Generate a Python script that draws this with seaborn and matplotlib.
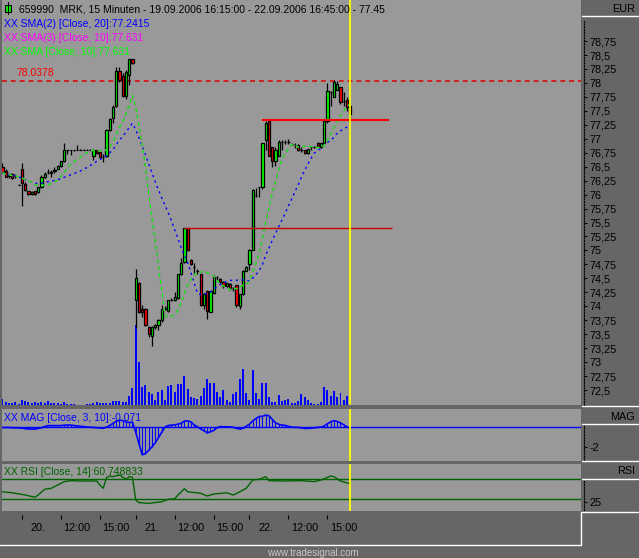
import numpy as np
import pandas as pd
import matplotlib
matplotlib.use("Agg")
import matplotlib.pyplot as plt
from matplotlib.lines import Line2D
from matplotlib.patches import Rectangle
from matplotlib.transforms import blended_transform_factory
import seaborn as sns

# 15 minute bars, 19.09.2006 16:15 -> 22.09.2006 16:45
opens = [
    76.50, 76.43, 76.34, 76.36, 76.33, 76.18,
    76.46, 76.19, 76.06, 76.01, 76.06, 76.05, 76.13, 76.31, 76.41, 76.39, 76.43, 76.46,
    76.51, 76.61, 76.79, 76.79, 76.79, 76.80, 76.80, 76.80, 76.80, 76.80, 76.69, 76.79,
    76.77, 76.67, 76.69, 77.16, 77.38, 77.59, 78.22, 78.12, 77.77, 78.15, 78.42,
    74.11, 74.42, 73.96, 73.95, 73.62, 73.46, 73.62, 73.66, 73.75, 73.95, 73.92, 74.11,
    74.11, 74.14, 74.57, 74.80, 75.40, 74.83, 74.71, 74.64, 74.58, 74.02, 74.27, 73.90,
    74.24, 74.52, 74.49, 74.44, 74.36, 74.39, 74.32, 74.38, 74.00, 74.22, 74.64,
    74.76, 75.01, 76.00, 76.14, 76.14, 76.98, 77.32, 76.85, 76.61, 76.70, 76.94, 76.94,
    76.95, 76.90, 76.89, 76.89, 76.79, 76.79, 76.74, 76.85, 76.85, 76.93, 76.85, 76.92,
    77.32, 77.84, 77.75, 77.88, 77.92, 77.67, 77.69, 77.59,
]
highs = [
    76.57, 76.45, 76.39, 76.38, 76.37, 76.19,
    76.56, 76.23, 76.07, 76.06, 76.07, 76.14, 76.35, 76.41, 76.46, 76.44, 76.49, 76.53,
    76.61, 76.93, 76.80, 76.80, 76.80, 76.89, 76.81, 76.81, 76.81, 76.81, 76.82, 76.80,
    76.78, 76.72, 77.17, 77.38, 77.60, 78.29, 78.28, 78.17, 78.23, 78.43, 78.43,
    74.66, 74.44, 74.02, 73.97, 73.64, 73.64, 73.68, 73.78, 74.02, 74.00, 74.12, 74.14,
    74.26, 74.58, 74.86, 75.41, 75.41, 74.85, 74.77, 74.66, 74.58, 74.23, 74.29, 74.28,
    74.56, 74.54, 74.50, 74.45, 74.42, 74.42, 74.35, 74.38, 74.22, 74.65, 74.72,
    75.02, 76.10, 76.11, 76.14, 76.92, 77.32, 77.33, 76.85, 76.85, 76.98, 76.98, 76.98,
    76.99, 76.92, 76.92, 76.90, 76.85, 76.80, 76.82, 76.87, 76.87, 76.94, 76.93, 77.34,
    78.00, 77.85, 78.06, 78.04, 77.93, 77.84, 77.75, 77.60,
]
lows = [
    76.39, 76.31, 76.30, 76.28, 76.29, 76.17,
    75.80, 76.06, 76.00, 76.00, 76.00, 76.02, 76.11, 76.29, 76.37, 76.32, 76.38, 76.45,
    76.50, 76.59, 76.73, 76.71, 76.78, 76.79, 76.79, 76.79, 76.79, 76.79, 76.62, 76.73,
    76.66, 76.59, 76.68, 77.14, 77.29, 77.57, 78.02, 77.75, 77.72, 77.97, 78.34,
    73.61, 73.88, 73.81, 73.64, 73.45, 73.28, 73.60, 73.58, 73.72, 73.93, 73.90, 74.09,
    74.10, 74.13, 74.56, 74.77, 74.99, 74.74, 74.59, 74.58, 74.00, 73.95, 73.77, 73.90,
    74.22, 74.47, 74.42, 74.33, 74.34, 74.29, 74.27, 73.98, 73.96, 74.21, 74.63,
    74.65, 75.00, 75.96, 75.96, 76.10, 76.79, 76.70, 76.50, 76.51, 76.69, 76.80, 76.91,
    76.91, 76.88, 76.83, 76.78, 76.77, 76.73, 76.73, 76.80, 76.83, 76.85, 76.84, 76.90,
    77.28, 77.59, 77.74, 77.87, 77.62, 77.59, 77.50, 77.33,
]
closes = [
    76.40, 76.32, 76.35, 76.29, 76.34, 76.18,
    76.21, 76.08, 76.01, 76.05, 76.01, 76.13, 76.31, 76.37, 76.41, 76.40, 76.44, 76.52,
    76.60, 76.79, 76.79, 76.79, 76.79, 76.80, 76.80, 76.80, 76.80, 76.80, 76.80, 76.74,
    76.67, 76.68, 77.16, 77.35, 77.57, 78.22, 78.05, 77.77, 78.19, 78.42, 78.35,
    74.50, 73.90, 73.90, 73.66, 73.50, 73.62, 73.665, 73.75, 73.95, 73.97, 74.11, 74.11,
    74.16, 74.57, 74.77, 75.40, 75.00, 74.75, 74.70, 74.64, 74.02, 74.22, 73.92, 74.27,
    74.53, 74.52, 74.435, 74.36, 74.41, 74.32, 74.32, 74.02, 74.22, 74.64, 74.71,
    75.01, 76.09, 76.00, 76.14, 76.92, 77.29, 76.70, 76.61, 76.80, 76.94, 76.94, 76.94,
    76.95, 76.90, 76.89, 76.79, 76.79, 76.74, 76.81, 76.85, 76.85, 76.86, 76.92, 77.32,
    77.85, 77.84, 78.02, 77.98, 77.66, 77.67, 77.57, 77.44,
]
volume = [
    6, 3, 2, 2, 3, 1,
    5, 4, 3, 2, 3, 2, 3, 2, 4, 2, 2, 2, 1, 3, 1, 1, 1, 0.5, 0.5, 0.5, 1, 1, 2, 3, 2,
    1.7, 2.3, 2.3, 4, 4, 4, 3, 3, 9, 17,
    80, 43, 18.3, 20, 12.7, 11, 5, 13.3, 15, 5, 19, 20, 13.3, 21, 21, 29.3, 16, 8.3,
    7.3, 6, 9.3, 17, 25.7, 22.3, 21.7, 13.3, 8.3, 15, 5, 3.3, 11, 13.3, 26, 36, 12.3,
    5, 35, 12.3, 6, 21.7, 21.7, 7.7, 3.3, 3.3, 10, 4.3, 5, 6, 2.3, 2.3, 4, 11, 8.3, 5,
    1.7, 1, 1, 3.3, 18.3, 15, 9.3, 14, 8.3, 11.7, 5, 9, 2.3,
]
rsi_bar = [0, 3, 7, 10, 11, 13, 15, 17, 19, 21, 24, 29, 30, 31, 32, 33, 34, 36, 38, 39,
           40, 41, 42, 45, 49, 51, 53, 54, 56, 57, 61, 63, 65, 69, 71, 73, 75, 77, 79,
           81, 82, 86, 92, 96, 98, 101, 102, 104, 107]
rsi_val = [45, 43, 38.6, 34, 38.6, 50, 52, 58.6, 65.3, 67.3, 66.6, 66.6, 58.6, 52, 73.2,
           76.6, 75.3, 78.6, 70, 75.3, 74, 28.6, 23.3, 22, 25, 30, 31, 38.6, 51.3, 45, 42,
           36.5, 40.6, 43, 38.6, 45, 52, 68.6, 70, 75.3, 67.3, 66.6, 67.3, 65.3, 68.6,
           76.6, 75.3, 66.6, 61]

time_ticks = [6, 18, 30, 41, 53, 65, 76, 88, 100]
time_labels = ["20.", "12:00", "15:00", "21.", "12:00", "15:00", "22.", "12:00", "15:00"]
price_ticks = [72.5, 72.75, 73, 73.25, 73.5, 73.75, 74, 74.25, 74.5, 74.75, 75, 75.25,
               75.5, 75.75, 76, 76.25, 76.5, 76.75, 77, 77.25, 77.5, 77.75, 78, 78.25,
               78.5, 78.75]
ref_level = 78.0378
red_levels = [77.33, 75.41]
red_start = [80, 56]
red_end = [119, 120]

W, H = 639, 558
BG = "#999999"
DARK = "#666666"
TXT = 7.5
SCALE_TXT = 7.8

sns.set_style("white")
plt.rcParams["font.family"] = ["Liberation Sans", "DejaVu Sans"]
plt.rcParams["font.size"] = TXT

fig = plt.figure(figsize=(W / 100, H / 100), dpi=100, facecolor=DARK)


def px_rect(x0, y0, x1, y1):
    return [x0 / W, 1 - y1 / H, (x1 - x0) / W, (y1 - y0) / H]


def fig_text(x, y, s, **kw):
    kw.setdefault("va", "center")
    kw.setdefault("fontsize", TXT)
    fig.text(x / W, 1 - y / H, s, **kw)


def fig_line(x0, y0, x1, y1, **kw):
    fig.add_artist(Line2D([x0 / W, x1 / W], [1 - y0 / H, 1 - y1 / H],
                          transform=fig.transFigure, **kw))


ax_vol = fig.add_axes(px_rect(1.5, 0, 581, 405), facecolor=BG)
ax = fig.add_axes(px_rect(1.5, 0, 581, 405), sharex=ax_vol)
ax.patch.set_visible(False)
ax_mag = fig.add_axes(px_rect(1.5, 408.5, 581, 461), sharex=ax_vol, facecolor=BG)
ax_rsi = fig.add_axes(px_rect(1.5, 463.5, 581, 511), sharex=ax_vol, facecolor=BG)
ax_time = fig.add_axes(px_rect(1.5, 511, 581, 545), sharex=ax_vol)
ax_time.patch.set_visible(False)

df = pd.DataFrame({"bar": np.arange(len(closes)), "open": opens, "high": highs,
                   "low": lows, "close": closes, "volume": volume})
df["sma20"] = df["close"].rolling(20, min_periods=1).mean()
df["sma10"] = df["close"].rolling(10, min_periods=1).mean()
df["sma3"] = df["close"].rolling(3, min_periods=1).mean()
df["mag"] = df["sma3"] - df["sma10"]
last = df["bar"].iloc[-1]

# volume
ax_vol.bar(df["bar"], df["volume"], width=0.6, color="#0000ff", linewidth=0)
ax_vol.set_ylim(0, 405)

# candles
up = df["close"] >= df["open"]
ax.vlines(df["bar"], df["low"], df["high"], color="black", lw=0.9, zorder=2)
ax.bar(df["bar"], (df["close"] - df["open"]).abs(),
       bottom=np.minimum(df["open"], df["close"]), width=0.72,
       color=np.where(up, "#00ff00", "#ff0000"), edgecolor="black", linewidth=0.9, zorder=3)

sma10_dash = (0, (2.8, 2.2))
sns.lineplot(data=df, x="bar", y="sma20", ax=ax, color="#0000ff", lw=1.0,
             linestyle=(0, (1.6, 2.6)), zorder=4)
sns.lineplot(data=df, x="bar", y="sma10", ax=ax, color="#ff00ff", lw=1.0,
             linestyle=sma10_dash, zorder=4)
sns.lineplot(data=df, x="bar", y="sma10", ax=ax, color="#00ff00", lw=1.0,
             linestyle=sma10_dash, zorder=4)

ax.axhline(ref_level, color="#e00000", lw=1.1, linestyle=(0, (3.2, 2.6)), zorder=1)
ax.hlines(red_levels[0], red_start[0], red_end[0], color="#ff0000", lw=1.5, zorder=5)
ax.hlines(red_levels[1], red_start[1], red_end[1], color="#cc0000", lw=1.0, zorder=5)

ax.set_ylim(72.232, 79.485)
ax_vol.set_xlim(-0.29, 178.0)

# MAG panel
ax_mag.axhline(0, color="#0000ff", lw=1.0)
ax_mag.vlines(df["bar"], 0, df["mag"], color="#0000ff", lw=0.8)
sns.lineplot(data=df, x="bar", y="mag", ax=ax_mag, color="#0000ff", lw=1.2)
ax_mag.set_ylim(-3.44, 1.95)

# RSI panel
ax_rsi.axhline(70, color="#006400", lw=1.0)
ax_rsi.axhline(30, color="#006400", lw=1.0)
sns.lineplot(x=rsi_bar, y=rsi_val, ax=ax_rsi, color="#006400", lw=1.0)
ax_rsi.set_ylim(6.6, 101.6)

for a in (ax, ax_mag, ax_rsi):
    a.axvline(last, color="#ffff00", lw=1.3, zorder=6)

# axes cosmetics
for a in (ax_vol, ax, ax_mag, ax_rsi, ax_time):
    a.set_xlabel("")
    a.set_ylabel("")
    a.tick_params(axis="x", bottom=False, labelbottom=False, top=False)
    for s in a.spines.values():
        s.set_visible(False)
ax_vol.set_yticks([])
ax_time.set_yticks([])


def right_scale(a, ticks, labels, lo, hi):
    a.yaxis.tick_right()
    a.set_yticks(ticks)
    a.set_yticklabels(labels)
    sp = a.spines["right"]
    sp.set_visible(True)
    sp.set_position(("outward", 2.2))
    sp.set_linestyle((0, (1, 1.5)))
    sp.set_linewidth(0.8)
    sp.set_color("black")
    sp.set_bounds(lo, hi)
    a.tick_params(axis="y", direction="out", length=2.2, width=0.7, color="black",
                  pad=1.5, labelsize=SCALE_TXT, labelcolor="black")


right_scale(ax, price_ticks, [f"{v:g}".replace(".", ",") for v in price_ticks], 72.232, 79.11)
right_scale(ax_mag, [-2], ["-2"], -3.33, 0.26)
right_scale(ax_rsi, [25], ["25"], 8.6, 66.6)

# time axis
tr = blended_transform_factory(ax_time.transData, ax_time.transAxes)
ax_time.vlines(time_ticks, 0.765, 0.882, transform=tr, color="black", lw=0.8)
for t, lab in zip(time_ticks, time_labels):
    ax_time.text(t + 5, 0.5, lab, transform=tr, ha="center", va="center",
                 fontsize=SCALE_TXT, color="black")

# header texts
fig.add_artist(Line2D([8 / W, 8 / W], [1 - 2 / H, 1 - 14 / H], transform=fig.transFigure,
                      color="black", lw=0.8))
fig.add_artist(Rectangle((5 / W, 1 - 12 / H), 6 / W, 7 / H, transform=fig.transFigure,
                         facecolor="#00ff00", edgecolor="black", lw=0.8))
fig_text(19, 9, "659990  MRK, 15 Minuten - 19.09.2006 16:15:00 - 22.09.2006 16:45:00 - 77.45",
         color="black")
fig_text(4, 24, "XX SMA(2) [Close, 20]:77.2415", color="#0000ff")
fig_text(4, 38, "XX SMA(3) [Close, 10]:77.631", color="#ff00ff")
fig_text(4, 52, "XX SMA [Close, 10]:77.631", color="#00ff00")
fig_text(16, 73, "78.0378", color="#ff0000")
fig_text(4, 418, "XX MAG [Close, 3, 10]:-0.071", color="#0000ff")
fig_text(4, 472, "XX RSI [Close, 14]:60.748833", color="#006400")

# right column labels and frame lines
fig_text(635, 9, "EUR", ha="right", color="black", fontsize=SCALE_TXT)
fig_text(635, 416.5, "MAG", ha="right", color="black", fontsize=SCALE_TXT)
fig_text(635, 471, "RSI", ha="right", color="black", fontsize=SCALE_TXT)
for yy in (15.7, 405.7, 424, 461.3, 479.3):
    fig_line(582, yy, 639, yy, color="white", lw=1)
fig_line(581, 512.3, 639, 512.3, color="white", lw=1)
fig_line(581, 512.3, 581, 545, color="white", lw=1)
fig_line(0, 545, 581, 545, color="white", lw=1)
fig_text(267, 552.5, "www.tradesignal.com", color="#c8c8c8", fontsize=7)

fig.savefig("out.png", dpi=100, facecolor=DARK)
